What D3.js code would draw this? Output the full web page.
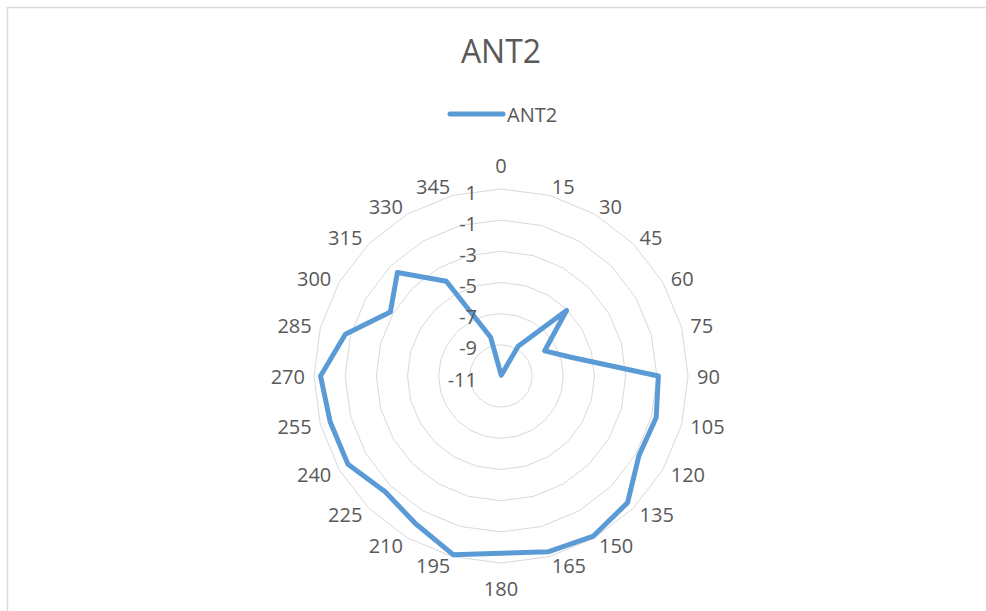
<!DOCTYPE html>
<html>
<head>
<meta charset="utf-8">
<script src="https://cdn.jsdelivr.net/npm/d3@7/dist/d3.min.js"></script>
<style>
  html, body { margin: 0; padding: 0; background: #fff; }
  svg { display: block; }
  text { font-family: "Open Sans", "Noto Sans", sans-serif; fill: #595959; }
</style>
</head>
<body>
<svg id="chart" width="986" height="611"></svg>
<script>
const title = "ANT2";
const seriesName = "ANT2";
const categories = [0, 15, 30, 45, 60, 75, 90, 105, 120, 135, 150, 165, 180, 195, 210, 225, 240, 255, 270, 285, 300, 315, 330, 345];
const values = [-10.9, -10.95, -8.8, -5.05, -7.77, -6.35, -0.9, -0.69, -0.78, 0.49, 0.86, 0.68, 0.38, 0.87, -0.05, -0.49, 0.34, 0.35, 0.58, -0.66, -2.8, -1.6, -3.98, -8.43];
const radialTicks = [1, -1, -3, -5, -7, -9, -11];

const svg = d3.select("#chart");
const cx = 501, cy = 376, outerR = 187;

// chart area border (only top/left visible)
svg.append("rect").attr("x", 7.5).attr("y", 7.5).attr("width", 1100).attr("height", 800)
  .attr("fill", "none").attr("stroke", "#d9d9d9").attr("stroke-width", 1.5);

const r = d3.scaleLinear().domain([-11, 1]).range([0, outerR]);
const angle = d3.scalePoint().domain(categories).range([0, 2 * Math.PI * (categories.length - 1) / categories.length]);

const g = svg.append("g").attr("transform", `translate(${cx},${cy})`);

// grid polygons
const gridLine = d3.lineRadial().angle(d => angle(d.c)).radius(d => r(d.v)).curve(d3.curveLinearClosed);
g.append("g").selectAll("path")
  .data(radialTicks.filter(t => t > -11))
  .join("path")
  .attr("d", t => gridLine(categories.map(c => ({c, v: t}))))
  .attr("fill", "none").attr("stroke", "#d9d9d9").attr("stroke-width", 1);

// series line
const data = categories.map((c, i) => ({c, v: values[i]}));
g.append("path")
  .attr("d", gridLine(data))
  .attr("fill", "none").attr("stroke", "#5b9bd5").attr("stroke-width", 5)
  .attr("stroke-linejoin", "round");

// radial tick labels
g.append("g").selectAll("text")
  .data(radialTicks)
  .join("text")
  .attr("x", -24).attr("y", t => -r(t) + 3)
  .attr("text-anchor", "end").attr("dominant-baseline", "central")
  .attr("font-size", 20)
  .text(t => t);

// category labels
const labelR = outerR + 9;
g.append("g").selectAll("text")
  .data(categories)
  .join("text")
  .attr("font-size", 20)
  .attr("dominant-baseline", "central")
  .attr("text-anchor", c => {
    const s = Math.sin(angle(c));
    return Math.abs(s) < 1e-6 ? "middle" : (s > 0 ? "start" : "end");
  })
  .attr("x", c => labelR * Math.sin(angle(c)))
  .attr("y", c => {
    const s = Math.sin(angle(c)), co = Math.cos(angle(c));
    if (Math.abs(s) < 1e-6) return co > 0 ? -(labelR + 15) : (labelR + 16);
    return -labelR * co;
  })
  .text(c => c);

// title
svg.append("text").attr("x", cx).attr("y", 50).attr("text-anchor", "middle")
  .attr("dominant-baseline", "central").attr("font-size", 32).text(title);

// legend
svg.append("line").attr("x1", 450).attr("x2", 503).attr("y1", 114).attr("y2", 114)
  .attr("stroke", "#5b9bd5").attr("stroke-width", 5).attr("stroke-linecap", "round");
svg.append("text").attr("x", 507).attr("y", 114).attr("dominant-baseline", "central")
  .attr("font-size", 20).text(seriesName);
</script>
</body>
</html>
